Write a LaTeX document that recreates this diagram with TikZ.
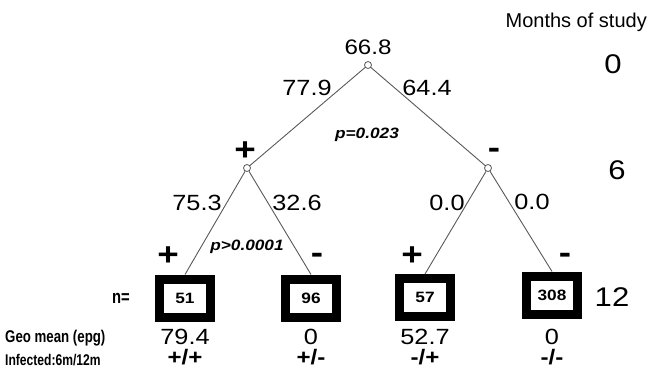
\documentclass[tikz,border=0pt]{standalone}
\usepackage{fontspec}
\setmainfont{Liberation Sans}
\newfontfamily\narrowfont[FakeStretch=0.78]{Liberation Sans}
\newfontfamily\widefont[FakeStretch=1.15]{Liberation Sans}
\newcommand{\fsz}[1]{\fontsize{#1}{#1}\selectfont}
\begin{document}
\begin{tikzpicture}[x=1pt,y=-1pt,
  edge/.style={draw=black!65, line width=0.9pt},
  joint/.style={circle, draw=black!65, fill=white, line width=0.8pt, inner sep=0pt, minimum size=7pt},
  leaf/.style={draw=black, line width=9pt, fill=white, minimum width=51pt, minimum height=38pt, inner sep=0pt, font=\widefont\bfseries\fsz{15}},
  val/.style={inner sep=0pt, font=\widefont\fsz{22}},
  topval/.style={inner sep=0pt, font=\widefont\fsz{21}},
  pval/.style={inner sep=0pt, font=\widefont\bfseries\itshape\fsz{15}},
  sgn/.style={inner sep=0pt, font=\widefont\bfseries\fsz{32}},
  mon/.style={inner sep=0pt, font=\widefont\fsz{27}},
  res/.style={inner sep=0pt, font=\widefont\bfseries\fsz{21}},
  rowlab/.style={inner sep=0pt, anchor=west, font=\narrowfont\bfseries\fsz{17}}
]
\useasboundingbox (0,0) rectangle (650,368);

% joints
\node[joint] (r) at (368,65) {};
\node[joint] (l) at (247,168) {};
\node[joint] (m) at (488,168) {};

% leaves
\node[leaf] (b1) at (185,298) {51};
\node[leaf] (b2) at (311,298) {96};
\node[leaf] (b3) at (425,297.5) {57};
\node[leaf] (b4) at (552,295) {308};

% edges
\draw[edge] (r) -- (l);
\draw[edge] (r) -- (m);
\draw[edge] (l) -- (b1.north);
\draw[edge] (l) -- (b2.north);
\draw[edge] (m) -- (b3.north);
\draw[edge] (m) -- (b4.north);

% values on tree
\node[topval] (t0) at (368,47) {66.8};
\node[val] (t1) at (307,88) {77.9};
\node[val] (t2) at (427,88) {64.4};
\node[pval] (p1) at (367,135) {p=0.023};
\node[sgn] (s1) at (245,151) {+};
\node[sgn] (s2) at (494,153) {-};
\node[val] (t3) at (197,203) {75.3};
\node[val] (t4) at (297,203) {32.6};
\node[val] (t5) at (447,203) {0.0};
\node[val] (t6) at (532,202) {0.0};
\node[sgn] (s3) at (168,256) {+};
\node[pval] (p2) at (247,247) {p>0.0001};
\node[sgn] (s4) at (317,258) {-};
\node[sgn] (s5) at (412,256) {+};
\node[sgn] (s6) at (565,258) {-};

% months
\node[inner sep=0pt, anchor=east, font=\fsz{20}] (mh) at (647,22) {Months of study};
\node[mon] (m0) at (613,64) {0};
\node[mon] (m6) at (617,170) {6};
\node[mon] (m12) at (612,297) {12};

% row labels
\node[inner sep=0pt, font=\narrowfont\bfseries\fsz{19}] (n) at (121,298) {n=};
\node[rowlab] (g) at (5,338) {Geo mean (epg)};
\node[rowlab, font=\narrowfont\bfseries\fsz{15.5}] (inf) at (5,360) {Infected:6m/12m};

% results
\node[val] (g1) at (185,337) {79.4};
\node[val] (g2) at (311,337) {0};
\node[val] (g3) at (425,337) {52.7};
\node[val] (g4) at (552,337) {0};
\node[res] (i1) at (185,357) {+/+};
\node[res] (i2) at (311,357) {+/-};
\node[res] (i3) at (425,357) {-/+};
\node[res] (i4) at (552,357) {-/-};
\end{tikzpicture}
\end{document}
